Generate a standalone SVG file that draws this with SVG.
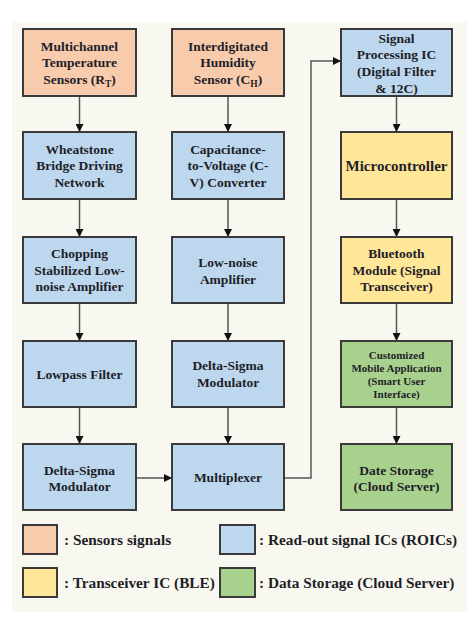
<svg xmlns="http://www.w3.org/2000/svg" width="475" height="621" viewBox="0 0 475 621">
<style>
.n{stroke:#3a3a3a;stroke-width:2}
.s{fill:#F8CBAD}.b{fill:#BDD7EE}.y{fill:#FFE699}.g{fill:#A9D18E}
text{font-family:"Liberation Serif","Times New Roman",serif;font-weight:bold;fill:#1e1e28;text-anchor:middle;font-size:13.5px}
.sm{font-size:11px}
.lg{font-size:15.3px;text-anchor:start}
.c{fill:none;stroke:#555;stroke-width:1.5}
</style>
<defs>
<marker id="ah" viewBox="0 0 10 10" refX="10" refY="5" markerWidth="8" markerHeight="8" markerUnits="userSpaceOnUse" orient="auto">
<path d="M0,0 L10,5 L0,10 z" fill="#111"/>
</marker>
</defs>
<rect width="475" height="621" fill="#fff"/>
<rect x="12" y="22" width="455" height="590" fill="#F9F8F0"/>

<g id="connectors">
<path class="c" d="M79.5,96 V132" marker-end="url(#ah)"/>
<path class="c" d="M79.5,199 V237" marker-end="url(#ah)"/>
<path class="c" d="M79.5,303 V341" marker-end="url(#ah)"/>
<path class="c" d="M79.5,407 V444" marker-end="url(#ah)"/>
<path class="c" d="M228,96 V132" marker-end="url(#ah)"/>
<path class="c" d="M228,199 V237" marker-end="url(#ah)"/>
<path class="c" d="M228,303 V341" marker-end="url(#ah)"/>
<path class="c" d="M228,407 V444" marker-end="url(#ah)"/>
<path class="c" d="M396.5,96 V132" marker-end="url(#ah)"/>
<path class="c" d="M396.5,199 V237" marker-end="url(#ah)"/>
<path class="c" d="M396.5,303 V341" marker-end="url(#ah)"/>
<path class="c" d="M396.5,407 V444" marker-end="url(#ah)"/>
<path class="c" d="M136,478 H172" marker-end="url(#ah)"/>
<path class="c" d="M284,478 H311 V61 H341" marker-end="url(#ah)"/>
</g>

<g id="n-temp"><rect class="n s" x="23" y="29" width="113" height="67"/>
<text x="79.5" y="50.7">Multichannel</text><text x="79.5" y="67.2">Temperature</text><text x="79.5" y="83.7">Sensors (R<tspan font-size="9.5" dy="3">T</tspan><tspan dy="-3">)</tspan></text></g>
<g id="n-hum"><rect class="n s" x="172" y="29" width="112" height="67"/>
<text x="228" y="50.7">Interdigitated</text><text x="228" y="67.2">Humidity</text><text x="228" y="83.7">Sensor (C<tspan font-size="9.5" dy="3">H</tspan><tspan dy="-3">)</tspan></text></g>
<g id="n-sp"><rect class="n b" x="341" y="29" width="111" height="67"/>
<text x="396.5" y="42.7">Signal</text><text x="396.5" y="59.4">Processing IC</text><text x="396.5" y="76.1">(Digital Filter</text><text x="396.5" y="92.8">&amp; 12C)</text></g>

<g id="n-wheat"><rect class="n b" x="23" y="132" width="113" height="67"/>
<text x="79.5" y="153.7">Wheatstone</text><text x="79.5" y="170.2">Bridge Driving</text><text x="79.5" y="186.7">Network</text></g>
<g id="n-cv"><rect class="n b" x="172" y="132" width="112" height="67"/>
<text x="228" y="153.7">Capacitance-</text><text x="228" y="170.2">to-Voltage (C-</text><text x="228" y="186.7">V) Converter</text></g>
<g id="n-mcu"><rect class="n y" x="341" y="132" width="111" height="67"/>
<text x="396.5" y="170.7" style="font-size:15px">Microcontroller</text></g>

<g id="n-chop"><rect class="n b" x="23" y="237" width="113" height="66"/>
<text x="79.5" y="258.2">Chopping</text><text x="79.5" y="274.7">Stabilized Low-</text><text x="79.5" y="291.2">noise Amplifier</text></g>
<g id="n-lna"><rect class="n b" x="172" y="237" width="112" height="66"/>
<text x="228" y="267">Low-noise</text><text x="228" y="284">Amplifier</text></g>
<g id="n-bt"><rect class="n y" x="341" y="237" width="111" height="66"/>
<text x="396.5" y="258.2">Bluetooth</text><text x="396.5" y="274.7">Module (Signal</text><text x="396.5" y="291.2">Transceiver)</text></g>

<g id="n-lpf"><rect class="n b" x="23" y="341" width="113" height="66"/>
<text x="79.5" y="378.7">Lowpass Filter</text></g>
<g id="n-ds2"><rect class="n b" x="172" y="341" width="112" height="66"/>
<text x="228" y="370.2">Delta-Sigma</text><text x="228" y="386.7">Modulator</text></g>
<g id="n-app"><rect class="n g" x="341" y="341" width="111" height="66"/>
<text class="sm" x="396.5" y="358.8">Customized</text><text class="sm" x="396.5" y="371.8">Mobile Application</text><text class="sm" x="396.5" y="384.8">(Smart User</text><text class="sm" x="396.5" y="397.8">Interface)</text></g>

<g id="n-ds1"><rect class="n b" x="23" y="444" width="113" height="66"/>
<text x="79.5" y="474.7">Delta-Sigma</text><text x="79.5" y="490.7">Modulator</text></g>
<g id="n-mux"><rect class="n b" x="172" y="444" width="112" height="66"/>
<text x="228" y="481.7">Multiplexer</text></g>
<g id="n-store"><rect class="n g" x="341" y="444" width="111" height="66"/>
<text x="396.5" y="474.7">Date Storage</text><text x="396.5" y="490.7">(Cloud Server)</text></g>

<g id="legend">
<rect class="n s" x="23" y="525" width="34" height="29"/><text class="lg" x="64" y="545">: Sensors signals</text>
<rect class="n b" x="220" y="525" width="35" height="29"/><text class="lg" x="259" y="545">: Read-out signal ICs (ROICs)</text>
<rect class="n y" x="23" y="568" width="34" height="29"/><text class="lg" x="64" y="588">: Transceiver IC (BLE)</text>
<rect class="n g" x="220" y="568" width="35" height="29"/><text class="lg" x="259" y="588">: Data Storage (Cloud Server)</text>
</g>
</svg>
